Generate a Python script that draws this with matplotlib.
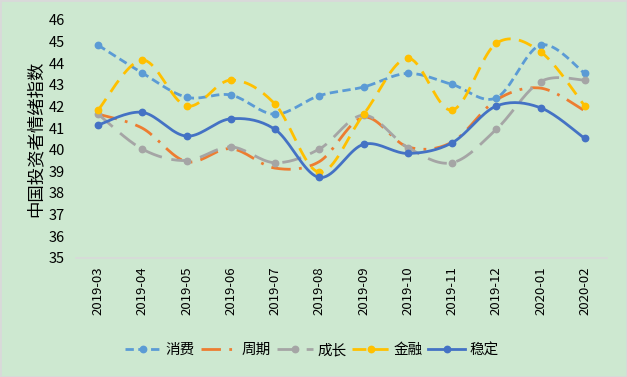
import numpy as np
import matplotlib
matplotlib.use("Agg")
import matplotlib.pyplot as plt

plt.rcParams['font.family'] = ['Noto Sans CJK SC', 'DejaVu Sans']

months = ["2019-03", "2019-04", "2019-05", "2019-06", "2019-07", "2019-08",
          "2019-09", "2019-10", "2019-11", "2019-12", "2020-01", "2020-02"]
consume = [44.84, 43.55, 42.43, 42.53, 41.64, 42.50, 42.90, 43.53, 43.02, 42.40, 44.84, 43.53]
cycle = [41.65, 41.00, 39.45, 40.05, 39.15, 39.45, 41.50, 40.13, 40.35, 42.30, 42.85, 41.80]
growth = [41.65, 40.03, 39.50, 40.13, 39.40, 40.03, 41.60, 40.10, 39.40, 40.94, 43.15, 43.22]
finance = [41.83, 44.15, 42.02, 43.22, 42.11, 38.96, 41.63, 44.23, 41.83, 44.92, 44.53, 42.02]
stable = [41.14, 41.73, 40.63, 41.43, 40.94, 38.72, 40.25, 39.83, 40.32, 42.02, 41.94, 40.52]

series_names = ["消费", "周期", "成长", "金融", "稳定"]
yticks = list(range(35, 47))


def smooth(x, y, n=20):
    # Catmull-Rom style bezier smoothing (like Excel's smoothed lines)
    x = np.asarray(x, float); y = np.asarray(y, float)
    P = np.column_stack([x, y])
    Pp = np.vstack([P[0], P, P[-1]])
    out = []
    t = np.linspace(0, 1, n)
    for i in range(len(P) - 1):
        p0, p1, p2, p3 = Pp[i], Pp[i + 1], Pp[i + 2], Pp[i + 3]
        c1 = p1 + (p2 - p0) / 6.0
        c2 = p2 - (p3 - p1) / 6.0
        seg = ((1 - t) ** 3)[:, None] * p1 + (3 * (1 - t) ** 2 * t)[:, None] * c1 \
            + (3 * (1 - t) * t ** 2)[:, None] * c2 + (t ** 3)[:, None] * p2
        out.append(seg if i == 0 else seg[1:])
    s = np.vstack(out)
    return s[:, 0], s[:, 1]


bg = "#CDE8D0"
fig = plt.figure(figsize=(6.27, 3.77), dpi=100, facecolor=bg)
ax = fig.add_axes([0.121, 0.316, 0.847, 0.631])
ax.set_facecolor(bg)

x = np.arange(len(months))
styles = [
    (consume, "#5B9BD5", (0, (3.0, 1.6)), True),
    (cycle, "#ED7D31", (0, (7, 3, 1, 3)), False),
    (growth, "#A5A5A5", (0, (7, 3.5)), True),
    (finance, "#FFC000", (0, (5, 3)), True),
    (stable, "#4472C4", "-", True),
]
handles = []
for (vals, col, ls, mk), name in zip(styles, series_names):
    sx, sy = smooth(x, vals)
    ax.plot(sx, sy, color=col, lw=2.0, linestyle=ls, zorder=2)
    if mk:
        ax.plot(x, vals, linestyle="none", marker="o", ms=4.6, color=col, zorder=3)
    h, = ax.plot([], [], color=col, lw=2.0, linestyle=ls,
                 marker="o" if mk else None, ms=4.6, label=name)
    handles.append(h)

ax.set_xlim(-0.5, len(months) - 0.5)
ax.set_ylim(35, 46)
ax.set_yticks(yticks)
ax.set_xticks(x)
ax.set_xticklabels(months, rotation=90, fontsize=9.5)
ax.tick_params(axis="y", labelsize=10.5, length=0, pad=8)
ax.tick_params(axis="x", length=0, pad=6)
for s in ["top", "right", "left"]:
    ax.spines[s].set_visible(False)
ax.spines["bottom"].set_color("#D9D9D9")
ax.spines["bottom"].set_linewidth(1.2)

ax.set_ylabel("中国投资者情绪指数", fontsize=12.5, labelpad=3)

fig.legend(handles=handles, loc="center", bbox_to_anchor=(0.497, 0.071), ncol=5,
           frameon=False, fontsize=10.5, handlelength=2.5, columnspacing=0.4,
           handletextpad=0.3)

fig.patches.append(plt.Rectangle((0, 0), 1, 1, transform=fig.transFigure,
                                 fill=False, edgecolor="#D9D9D9", lw=2))
fig.savefig("out.png", dpi=100, facecolor=bg)
